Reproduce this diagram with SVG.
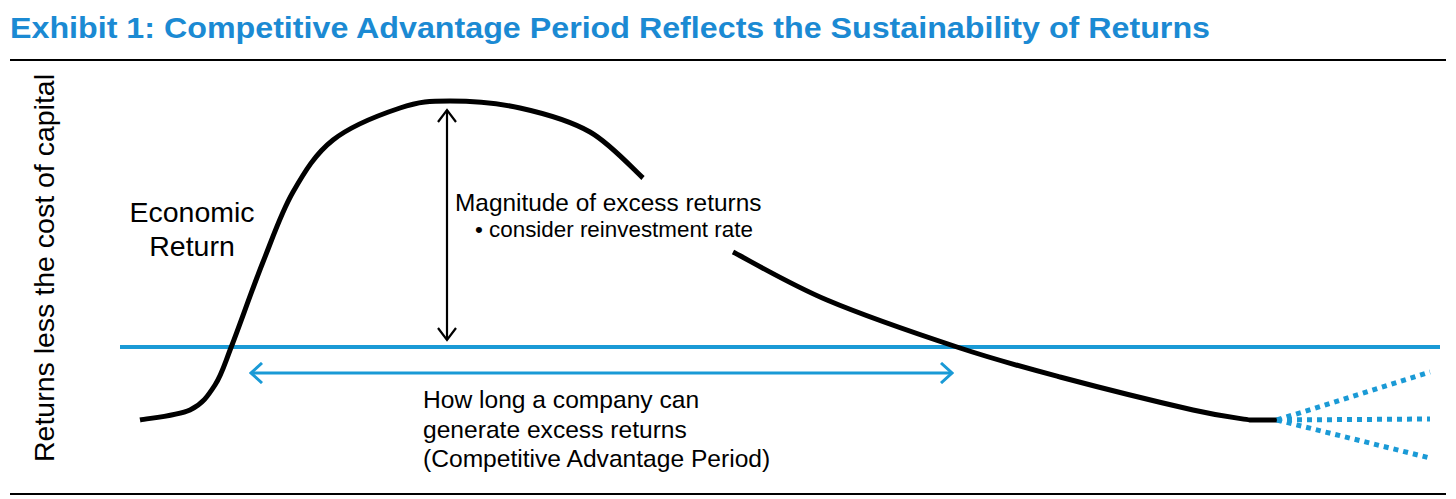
<svg xmlns="http://www.w3.org/2000/svg" width="1456" height="499" viewBox="0 0 1456 499">
  <style>
    .title { font-family: "Liberation Sans", Arial, sans-serif; font-weight: bold; font-size: 30px; fill: #1B8AD3; }
    .lbl { font-family: "Liberation Sans", Arial, sans-serif; fill: #000; }
    .rule { stroke: #000; stroke-width: 2; fill: none; }
    .curve { stroke: #000; stroke-width: 5; fill: none; stroke-linecap: butt; stroke-linejoin: round; }
    .blue { stroke: #1A9AD6; fill: none; }
    .dots { stroke: #1A9AD6; stroke-width: 5; stroke-dasharray: 5 5; fill: none; }
  </style>
  <defs>
    <marker id="blackHead" viewBox="0 0 20 20" refX="18" refY="10" markerWidth="20" markerHeight="20" markerUnits="userSpaceOnUse" orient="auto-start-reverse">
      <path d="M6,1 L18,10 L6,19" fill="none" stroke="#000" stroke-width="2.2"/>
    </marker>
    <marker id="blueHead" viewBox="0 0 20 22" refX="18" refY="11" markerWidth="20" markerHeight="22" markerUnits="userSpaceOnUse" orient="auto-start-reverse">
      <path d="M7,1 L18,11 L7,21" fill="none" stroke="#1A9AD6" stroke-width="3"/>
    </marker>
  </defs>

  <rect width="1456" height="499" fill="#fff"/>

  <g id="title">
    <text class="title" x="10" y="38" textLength="1200" lengthAdjust="spacingAndGlyphs">Exhibit 1: Competitive Advantage Period Reflects the Sustainability of Returns</text>
  </g>

  <g id="frame">
    <line class="rule" x1="10" y1="60" x2="1446" y2="60"/>
    <line class="rule" x1="10" y1="494" x2="1446" y2="494"/>
  </g>

  <g id="y-axis-label">
    <text class="lbl" font-size="28.5" transform="translate(54,268) rotate(-90)" text-anchor="middle">Returns less the cost of capital</text>
  </g>

  <g id="cost-of-capital-line">
    <line class="blue" stroke-width="4" x1="120" y1="347" x2="1440" y2="347"/>
  </g>

  <g id="economic-return-curve">
    <path class="curve" d="M140,420 C148.3,418.3 177.5,415.8 190,410 C202.5,404.2 208,395.8 215,385 C222,374.2 224,365.5 232,345 C240,324.5 252.8,287.5 263,262 C273.2,236.5 281.3,212.3 293,192 C304.7,171.7 315.2,154 333,140 C350.8,126 380.5,114.5 400,108 C419.5,101.5 430,101 450,101 C470,101 496.7,102.8 520,108 C543.3,113.2 569.5,120.3 590,132 C610.5,143.7 634.2,170.3 643,178"/>
    <path class="curve" d="M733,252 C748.7,260 789.2,284 827,300 C864.8,316 921.2,335.2 960,348 C998.8,360.8 1021.2,366.7 1060,377 C1098.8,387.3 1161.3,402.8 1193,410 C1224.7,417.2 1240.5,418.3 1250,420 L1277,420"/>
  </g>

  <g id="future-scenarios">
    <line class="dots" x1="1277" y1="420" x2="1430" y2="372"/>
    <line class="dots" x1="1277" y1="420" x2="1430" y2="419"/>
    <line class="dots" x1="1277" y1="420" x2="1430" y2="458"/>
  </g>

  <g id="connectors">
    <line stroke="#000" stroke-width="2.2" x1="447" y1="110" x2="447" y2="340" marker-start="url(#blackHead)" marker-end="url(#blackHead)"/>
    <line stroke="#1A9AD6" stroke-width="3" x1="251" y1="373" x2="952" y2="373" marker-start="url(#blueHead)" marker-end="url(#blueHead)"/>
  </g>

  <g id="economic-return-label">
    <text class="lbl" font-size="28.5" text-anchor="middle"><tspan x="192" y="222">Economic</tspan><tspan x="192" y="256">Return</tspan></text>
  </g>

  <g id="magnitude-label">
    <text class="lbl" font-size="24.4" x="455" y="211">Magnitude of excess returns</text>
    <text class="lbl" font-size="22.4" x="475" y="237">• consider reinvestment rate</text>
  </g>

  <g id="cap-label">
    <text class="lbl" font-size="24.6"><tspan x="423" y="408">How long a company can</tspan><tspan x="423" y="438">generate excess returns</tspan><tspan x="423" y="467">(Competitive Advantage Period)</tspan></text>
  </g>
</svg>
